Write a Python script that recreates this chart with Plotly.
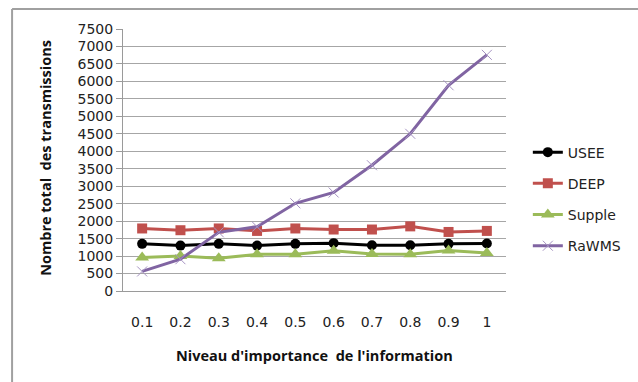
import plotly.graph_objects as go

# Niveau d'importance (categories on the x axis)
niveaux = ["0.1", "0.2", "0.3", "0.4", "0.5", "0.6", "0.7", "0.8", "0.9", "1"]

# Nombre total des transmissions per protocol
usee = [1350, 1300, 1350, 1300, 1350, 1370, 1310, 1310, 1350, 1360]
deep = [1790, 1740, 1790, 1720, 1790, 1760, 1760, 1850, 1690, 1720]
supple = [960, 1000, 940, 1050, 1050, 1150, 1060, 1050, 1160, 1090]
rawms = [560, 910, 1680, 1840, 2510, 2820, 3600, 4500, 5890, 6760]

y_ticks = list(range(0, 7501, 500))

FONT = "DejaVu Sans"
TITLE_FONT = "Open Sans"
TEXT = "#222222"

series = [
    ("USEE", usee, "#000000", dict(symbol="circle", size=10)),
    ("DEEP", deep, "#C0504D", dict(symbol="square", size=10)),
    ("Supple", supple, "#9BBB59", dict(symbol="triangle-up", size=12)),
    ("RaWMS", rawms, "#8064A2", dict(symbol="x-thin", size=10,
                                     line=dict(width=1, color="#A593C2"))),
]

fig = go.Figure()
for name, vals, color, marker in series:
    fig.add_trace(go.Scatter(
        x=niveaux, y=vals, name=name, mode="lines+markers",
        line=dict(color=color, width=3),
        marker=dict(color=color, **marker),
        legendgroup=name,
    ))

fig.update_layout(
    width=638, height=382,
    margin=dict(l=123, r=130, t=29, b=91),
    paper_bgcolor="white", plot_bgcolor="white",
    font=dict(family=FONT, size=14, color=TEXT),
    showlegend=True,
    legend=dict(
        x=1.057, y=0.351, xanchor="left", yanchor="middle",
        font=dict(family=FONT, size=14, color=TEXT),
        traceorder="grouped", tracegroupgap=10,
        itemwidth=30, bgcolor="rgba(0,0,0,0)",
    ),
    xaxis=dict(
        type="category", range=[-0.5, 9.5],
        showgrid=False, showline=True, linecolor="#9a9a9a", linewidth=1,
        ticks="", ticklabelstandoff=18,
        tickfont=dict(family=FONT, size=14, color=TEXT),
    ),
    yaxis=dict(
        range=[0, 7500], tickvals=y_ticks,
        showgrid=True, gridcolor="#a6a6a6", gridwidth=1,
        showline=True, linecolor="#9a9a9a", linewidth=1,
        ticks="outside", ticklen=6, tickcolor="#9a9a9a",
        tickfont=dict(family=FONT, size=14, color=TEXT),
        zeroline=False,
    ),
    annotations=[
        dict(text="<b>Nombre total  des transmissions</b>", xref="paper", yref="paper",
             x=-0.2026, y=0.51, textangle=-90, showarrow=False,
             font=dict(family=TITLE_FONT, size=14.5, color="#111111"),
             xanchor="center", yanchor="middle"),
        dict(text="<b>Niveau d'importance  de l'information</b>", xref="paper", yref="paper",
             x=0.5, y=-0.245, showarrow=False,
             font=dict(family=TITLE_FONT, size=14.5, color="#111111"),
             xanchor="center", yanchor="middle"),
    ],
    shapes=[
        # outer chart frame (left and top edges)
        dict(type="line", xref="paper", yref="paper",
             x0=(11.5 - 123) / 385, x1=(11.5 - 123) / 385,
             y0=(291 - 9) / 262, y1=(291 - 400) / 262,
             line=dict(color="#a0a0a0", width=2)),
        dict(type="line", xref="paper", yref="paper",
             x0=(11.5 - 123) / 385, x1=(650 - 123) / 385,
             y0=(291 - 9) / 262, y1=(291 - 9) / 262,
             line=dict(color="#a0a0a0", width=2)),
    ],
)

fig.write_html("out.html")
